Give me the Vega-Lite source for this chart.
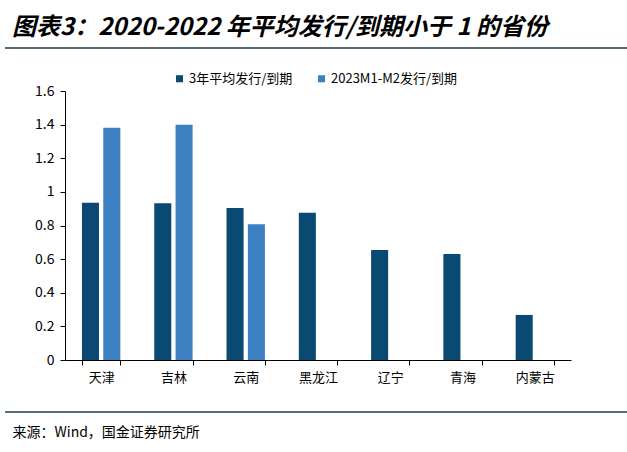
{
  "$schema": "https://vega.github.io/schema/vega-lite/v6.json",
  "autosize": {"type": "none"},
  "width": 506,
  "height": 269,
  "padding": {"left": 65, "top": 91, "right": 56, "bottom": 92},
  "background": "white",
  "config": {
    "view": {"stroke": null},
    "font": "Noto Sans CJK SC",
    "axisY": {
      "title": null,
      "tickCount": 8,
      "format": "~g",
      "grid": false,
      "labelOverlap": false,
      "labelFont": "Noto Sans CJK SC",
      "labelFontSize": 14,
      "labelColor": "#000000",
      "domainColor": "#000000",
      "tickColor": "#000000",
      "tickSize": 5,
      "labelPadding": 6
    }
  },
  "title": {
    "text": "图表3：2020-2022 年平均发行/到期小于 1 的省份",
    "anchor": "start",
    "frame": "group",
    "font": "Noto Sans CJK SC",
    "fontSize": 24,
    "fontWeight": "bold",
    "fontStyle": "italic",
    "color": "#000000",
    "dx": -53,
    "offset": 7
  },
  "data": {
    "values": [
      {"province": "天津", "series": "3年平均发行/到期", "value": 0.936},
      {"province": "天津", "series": "2023M1-M2发行/到期", "value": 1.382},
      {"province": "吉林", "series": "3年平均发行/到期", "value": 0.932},
      {"province": "吉林", "series": "2023M1-M2发行/到期", "value": 1.40},
      {"province": "云南", "series": "3年平均发行/到期", "value": 0.904},
      {"province": "云南", "series": "2023M1-M2发行/到期", "value": 0.807},
      {"province": "黑龙江", "series": "3年平均发行/到期", "value": 0.876},
      {"province": "辽宁", "series": "3年平均发行/到期", "value": 0.654},
      {"province": "青海", "series": "3年平均发行/到期", "value": 0.631},
      {"province": "内蒙古", "series": "3年平均发行/到期", "value": 0.268}
    ]
  },
  "layer": [
    {
      "mark": {"type": "bar"},
      "encoding": {
        "x": {
          "field": "province",
          "type": "nominal",
          "sort": ["天津", "吉林", "云南", "黑龙江", "辽宁", "青海", "内蒙古"],
          "scale": {"paddingInner": 0.469, "paddingOuter": 0.2345},
          "axis": {
            "title": "来源：Wind，国金证券研究所",
            "titleFont": "Noto Sans CJK SC",
            "titleFontSize": 14,
            "titleFontWeight": "normal",
            "titleColor": "#000000",
            "titleAnchor": "start",
            "titleAlign": "left",
            "titleBaseline": "middle",
            "titleX": -53,
            "titleY": 72,
            "labelAngle": 0,
            "labelFont": "Noto Sans CJK SC",
            "labelFontSize": 13,
            "labelColor": "#000000",
            "labelPadding": 6,
            "domainColor": "#000000",
            "tickColor": "#000000",
            "tickBand": "extent",
            "tickSize": 5,
            "grid": false
          }
        },
        "xOffset": {
          "field": "series",
          "type": "nominal",
          "scale": {"domain": ["3年平均发行/到期", "2023M1-M2发行/到期"], "paddingInner": 0.2, "paddingOuter": 0}
        },
        "y": {
          "field": "value",
          "type": "quantitative",
          "scale": {"domain": [0, 1.6], "nice": false}
        },
        "color": {
          "field": "series",
          "type": "nominal",
          "scale": {"domain": ["3年平均发行/到期", "2023M1-M2发行/到期"], "range": ["#0a4a72", "#3d80c1"]},
          "legend": {
            "title": null,
            "orient": "none",
            "direction": "horizontal",
            "legendX": 108,
            "legendY": -19,
            "symbolType": "square",
            "symbolSize": 50,
            "symbolStrokeWidth": 0,
            "labelFont": "Noto Sans CJK SC",
            "labelFontSize": 13,
            "labelColor": "#000000",
            "labelOffset": 3,
            "columnPadding": 22,
            "padding": 0
          }
        }
      }
    },
    {
      "data": {"values": [{"line": "top"}]},
      "mark": {"type": "rule", "clip": false, "color": "#1f3a4d", "strokeWidth": 1.5},
      "encoding": {
        "x": {"datum": -0.1186, "type": "quantitative", "scale": {"domain": [0, 1]}, "axis": null},
        "x2": {"datum": 1.1107},
        "y": {"datum": 1.8558, "type": "quantitative", "scale": {"domain": [0, 1.6], "nice": false}}
      }
    },
    {
      "data": {"values": [{"line": "bottom"}]},
      "mark": {"type": "rule", "clip": false, "color": "#1f3a4d", "strokeWidth": 1.5},
      "encoding": {
        "x": {"datum": -0.1186, "type": "quantitative", "scale": {"domain": [0, 1]}, "axis": null},
        "x2": {"datum": 1.1107},
        "y": {"datum": -0.3093, "type": "quantitative", "scale": {"domain": [0, 1.6], "nice": false}}
      }
    }
  ],
  "resolve": {"scale": {"x": "independent", "xOffset": "independent"}}
}
